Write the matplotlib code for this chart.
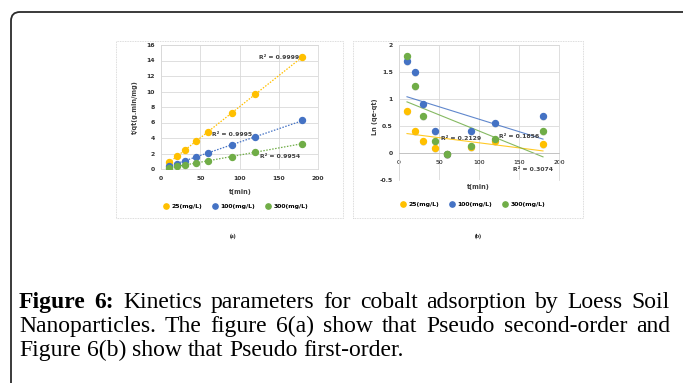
import numpy as np
import matplotlib
matplotlib.use("Agg")
import matplotlib.pyplot as plt
from matplotlib.patches import Rectangle, FancyBboxPatch
from matplotlib.lines import Line2D

W, H = 683, 383

# contact time (min)
t_min = [10, 20, 30, 45, 60, 90, 120, 180]
series_labels = ["25(mg/L)", "100(mg/L)", "300(mg/L)"]
colors = ["#FFC000", "#4472C4", "#70AD47"]

# pseudo second-order: t/qt (g.min/mg)
tq_25 = [0.86, 1.63, 2.40, 3.56, 4.76, 7.20, 9.70, 14.45]
tq_100 = [0.43, 0.69, 1.07, 1.55, 2.06, 3.05, 4.12, 6.30]
tq_300 = [0.13, 0.34, 0.50, 0.77, 1.07, 1.59, 2.19, 3.26]

# pseudo first-order: ln(qe-qt)
ln_25 = [0.78, 0.40, 0.22, 0.09, -0.02, 0.12, 0.22, 0.17]
ln_100 = [1.70, 1.50, 0.91, 0.40, -0.01, 0.40, 0.55, 0.69]
ln_300 = [1.79, 1.25, 0.69, 0.22, -0.01, 0.13, 0.26, 0.40]

r2_a = ["0.9999", "0.9995", "0.9954"]
r2_b = ["0.2129", "0.1856", "0.3074"]

CHART_FONT = "DejaVu Sans"
FS = 4.4


def fx(x):
    return x / W


def fy(y):
    return 1 - y / H


fig = plt.figure(figsize=(W / 100, H / 100), dpi=100)
fig.patch.set_facecolor("white")

# page border
border = FancyBboxPatch((fx(11), fy(420)), fx(700 - 11), (420 - 12) / H,
                        boxstyle="round,pad=0,rounding_size=0.013",
                        transform=fig.transFigure, facecolor="none",
                        edgecolor="#2b2b2b", linewidth=1.3,
                        mutation_aspect=W / H)
fig.patches.append(border)

# chart area frames
for x0, x1 in [(116, 343), (353, 583)]:
    fig.patches.append(Rectangle((fx(x0), fy(218)), (x1 - x0) / W, (218 - 41) / H,
                                 transform=fig.transFigure, facecolor="none",
                                 edgecolor="#d0d0d0", linewidth=0.6,
                                 linestyle=(0, (1, 1))))


def style_axes(ax):
    for s in ax.spines.values():
        s.set_color("#d9d9d9")
        s.set_linewidth(0.6)
    ax.grid(True, color="#d9d9d9", linewidth=0.6)
    ax.set_axisbelow(True)
    ax.tick_params(axis="x", length=0, labelsize=FS, pad=5)
    ax.tick_params(axis="y", length=0, labelsize=FS, pad=4.5)
    for lab in ax.get_xticklabels() + ax.get_yticklabels():
        lab.set_fontweight("bold")
        lab.set_fontfamily(CHART_FONT)
        lab.set_color("#333333")


def legend(ax, cx, cy):
    handles = [Line2D([], [], marker="o", linestyle="none", color=c,
                      markersize=3.8) for c in colors]
    fig.legend(handles, series_labels, loc="center",
               bbox_to_anchor=(fx(cx), fy(cy)), ncol=3, frameon=False,
               prop={"family": CHART_FONT, "size": FS, "weight": "bold"},
               handletextpad=0.0, columnspacing=1.0, borderaxespad=0)


x_arr = np.array(t_min, dtype=float)

# ---- (a) pseudo second-order ----
axa = fig.add_axes([fx(161), fy(169), (318 - 161) / W, (169 - 45) / H])
axa.set_xlim(0, 200)
axa.set_ylim(0, 16)
axa.set_xticks(np.arange(0, 201, 50))
axa.set_yticks(np.arange(0, 17, 2))
style_axes(axa)
for y, c in zip([tq_25, tq_100, tq_300], colors):
    k, b = np.polyfit(x_arr, y, 1)
    axa.plot([x_arr[0], x_arr[-1]], [k * x_arr[0] + b, k * x_arr[-1] + b],
             color=c, linestyle=(0, (1.2, 1.2)), linewidth=0.9, zorder=2)
    axa.plot(x_arr, y, "o", color=c, markersize=4.3, zorder=3)
for (xt, yt), r in zip([(150, 14.45), (90, 4.4), (152, 1.55)], r2_a):
    axa.text(xt, yt, "R² = " + r, fontsize=FS, fontweight="bold",
             family=CHART_FONT, ha="center", va="center", color="#404040",
             zorder=4)
fig.text(fx(135), fy(107), "t/qt(g.min/mg)", rotation=90, ha="center",
         va="center", fontsize=FS + 0.3, fontweight="bold", family=CHART_FONT,
         color="#404040")
fig.text(fx(240), fy(192), "t(min)", ha="center", va="center", fontsize=FS + 0.3,
         fontweight="bold", family=CHART_FONT, color="#404040")
legend(axa, 234, 206)

# ---- (b) pseudo first-order ----
axb = fig.add_axes([fx(399), fy(180), (559 - 399) / W, (180 - 45) / H])
axb.set_xlim(0, 200)
axb.set_ylim(-0.5, 2)
axb.set_xticks(np.arange(0, 201, 50))
axb.set_yticks(np.arange(-0.5, 2.01, 0.5))
axb.set_yticklabels(["-0.5", "0", "0.5", "1", "1.5", "2"])
style_axes(axb)
axb.spines["bottom"].set_position(("data", 0))
axb.spines["bottom"].set_color("#bfbfbf")
for y, c in zip([ln_25, ln_100, ln_300], colors):
    k, b = np.polyfit(x_arr, y, 1)
    axb.plot([x_arr[0], x_arr[-1]], [k * x_arr[0] + b, k * x_arr[-1] + b],
             color=c, linewidth=0.8, alpha=0.85, zorder=2)
    axb.plot(x_arr, np.array(y) - 0.02, "o", color="#9a9a9a", alpha=0.35,
             markersize=4.8, markeredgewidth=0, zorder=2.5)
    axb.plot(x_arr, y, "o", color=c, markersize=4.3, zorder=3)
for (xt, yt), r in zip([(77, 0.26), (150, 0.30), (167, -0.31)], r2_b):
    axb.text(xt, yt, "R² = " + r, fontsize=FS, fontweight="bold",
             family=CHART_FONT, ha="center", va="center", color="#404040",
             zorder=4)
fig.text(fx(375), fy(117), "Ln (qe-qt)", rotation=90, ha="center",
         va="center", fontsize=FS + 0.3, fontweight="bold", family=CHART_FONT,
         color="#404040")
fig.text(fx(478), fy(187), "t(min)", ha="center", va="center", fontsize=FS + 0.3,
         fontweight="bold", family=CHART_FONT, color="#404040")
legend(axb, 471, 204)

# panel tags
for x, s in [(233, "(a)"), (478, "(b)")]:
    fig.text(fx(x), fy(236), s, ha="center", va="center", fontsize=4.0,
             fontweight="bold", family="Liberation Serif")

# ---- caption (justified) ----
renderer = fig.canvas.get_renderer()
SERIF = "Liberation Serif"
caption = [
    ([("Figure", True), ("6:", True), ("Kinetics", False), ("parameters", False),
      ("for", False), ("cobalt", False), ("adsorption", False), ("by", False),
      ("Loess", False), ("Soil", False)], True),
    ([("Nanoparticles.", False), ("The", False), ("figure", False), ("6(a)", False),
      ("show", False), ("that", False), ("Pseudo", False), ("second-order", False),
      ("and", False)], True),
    ([("Figure", False), ("6(b)", False), ("show", False), ("that", False),
      ("Pseudo", False), ("first-order.", False)], False),
]

# size the caption so its second line nearly fills the text block
probe = fig.text(0, 0, "Nanoparticles. The figure 6(a) show that Pseudo second-order and",
                 fontsize=10, family=SERIF)
cap_fs = 10 * 628 / probe.get_window_extent(renderer).width
probe.remove()


def text_width(s, bold=False):
    t = fig.text(0, 0, s, fontsize=cap_fs, family=SERIF,
                 fontweight="bold" if bold else "normal")
    w = t.get_window_extent(renderer).width
    t.remove()
    return w


sw = text_width("a a") - text_width("aa")

X0, X1 = 19, 670
baselines = [308, 332, 356]
for (words, justify), yb in zip(caption, baselines):
    texts = [fig.text(0, fy(yb), w, fontsize=cap_fs, family=SERIF,
                      fontweight="bold" if bold else "normal", va="baseline")
             for w, bold in words]
    widths = [t.get_window_extent(renderer).width for t in texts]
    if justify:
        gap = (X1 - X0 - sum(widths)) / (len(words) - 1)
    else:
        gap = sw
    x = X0
    for t, w in zip(texts, widths):
        t.set_x(fx(x))
        x += w + gap

fig.savefig("out.png", dpi=100)
